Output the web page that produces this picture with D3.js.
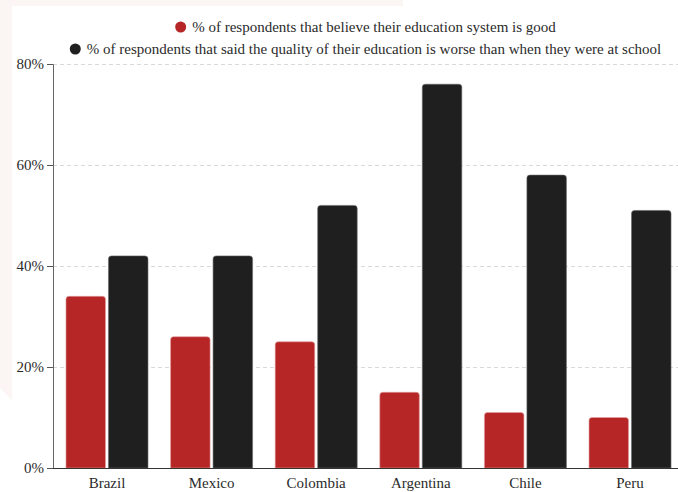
<!DOCTYPE html>
<html>
<head>
<meta charset="utf-8">
<script src="https://cdn.jsdelivr.net/npm/d3@7"></script>
<style>
  html, body { margin: 0; padding: 0; background: #ffffff; }
  svg { display: block; }
</style>
</head>
<body>
<svg id="chart" width="678" height="492"></svg>
<script>
// Survey results by country
const countries = ["Brazil", "Mexico", "Colombia", "Argentina", "Chile", "Peru"];
const seriesNames = [
  "% of respondents that believe their education system is good",
  "% of respondents that said the quality of their education is worse than when they were at school"
];
const goodSystem = [34, 26, 25, 15, 11, 10];
const worseQuality = [42, 42, 52, 76, 58, 51];
const yTicks = [0, 20, 40, 60, 80];
const seriesColors = ["#b72626", "#1f1f1f"];

const W = 678, H = 492;
const FONT = "Liberation Serif, DejaVu Serif, serif";
const svg = d3.select("#chart");

// faint backdrop shape behind the panel
svg.append("path")
  .attr("d", "M0,0 H403 V6 H12 V400 L0,388 Z")
  .attr("fill", "#fbf5f4");

const rows = countries.map((c, i) => ({ country: c, values: [goodSystem[i], worseQuality[i]] }));

const x0 = d3.scaleBand().domain(countries).range([53, 684])
  .paddingInner(0.216).paddingOuter(0.124);
const x1 = d3.scaleBand().domain([0, 1]).range([0, x0.bandwidth()])
  .paddingInner(0.07);
const y = d3.scaleLinear().domain([0, 80]).range([468, 64]);

// gridlines
svg.append("g").selectAll("line").data(yTicks.filter(t => t > 0)).join("line")
  .attr("x1", 53).attr("x2", W)
  .attr("y1", d => y(d) + 0.5).attr("y2", d => y(d) + 0.5)
  .attr("stroke", "#d9d9d9").attr("stroke-width", 1)
  .attr("stroke-dasharray", "4,3");

// bars with rounded tops
function topRounded(x, yTop, w, h, r) {
  r = Math.min(r, h, w / 2);
  return `M${x},${yTop + h} V${yTop + r} Q${x},${yTop} ${x + r},${yTop} H${x + w - r} Q${x + w},${yTop} ${x + w},${yTop + r} V${yTop + h} Z`;
}

const groups = svg.append("g").selectAll("g").data(rows).join("g")
  .attr("transform", d => `translate(${x0(d.country)},0)`);

groups.selectAll("path").data(d => d.values.map((v, k) => ({ v, k }))).join("path")
  .attr("d", d => topRounded(x1(d.k), y(d.v), x1.bandwidth(), y(0) - y(d.v), 3))
  .attr("fill", d => seriesColors[d.k])
  .attr("stroke", d => d.k === 0 ? "#e3a0a0" : "#6a6a6a")
  .attr("stroke-width", 0.6);

// y axis
const yAxis = d3.axisLeft(y).tickValues(yTicks).tickFormat(d => d + "%").tickSize(6).tickPadding(3);
const gy = svg.append("g").attr("transform", "translate(53,0)").call(yAxis)
  .attr("font-family", FONT).attr("font-size", 15);
gy.select(".domain").attr("stroke", "#666").attr("d", "M-6,64.5 H0.5 V468.5 H-6");
gy.selectAll(".tick line").attr("stroke", "#555");
gy.selectAll(".tick text").attr("fill", "#2b2b2b");

// x axis
const gx = svg.append("g").attr("transform", "translate(0,468)")
  .call(d3.axisBottom(x0).tickSize(0).tickPadding(9))
  .attr("font-family", FONT).attr("font-size", 15);
gx.select(".domain").attr("stroke", "#333").attr("d", `M53,0.5 H${W}`);
gx.selectAll(".tick text").attr("fill", "#2b2b2b");

// legend
const legendCenter = 365.5;
const legendRows = [27, 49];
seriesNames.forEach((name, i) => {
  const g = svg.append("g");
  g.append("circle").attr("cx", 5.5).attr("cy", 0).attr("r", 5.5).attr("fill", seriesColors[i]);
  const t = g.append("text").attr("x", 17).attr("y", 5)
    .attr("font-family", FONT).attr("font-size", 15).attr("fill", "#2b2b2b")
    .text(name);
  const w = 17 + t.node().getComputedTextLength();
  g.attr("transform", `translate(${legendCenter - w / 2},${legendRows[i]})`);
});
</script>
</body>
</html>
